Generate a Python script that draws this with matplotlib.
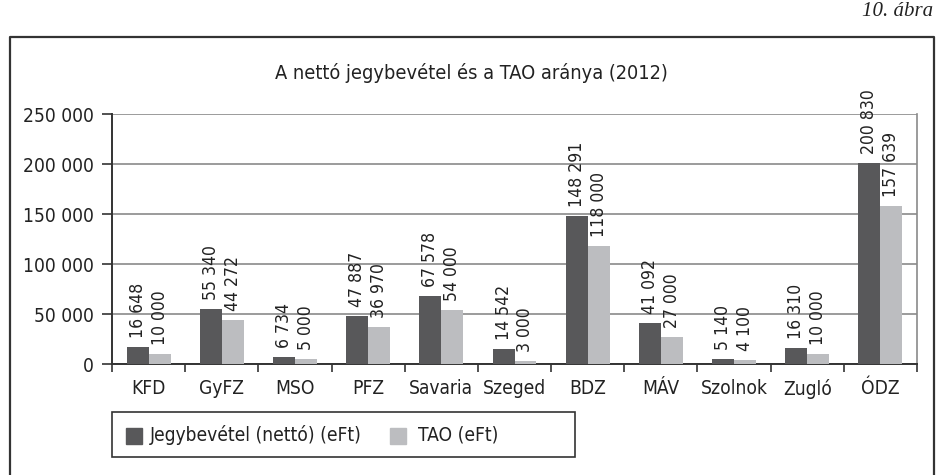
import matplotlib
matplotlib.use("Agg")
import matplotlib.pyplot as plt
from matplotlib.patches import Rectangle
from matplotlib.lines import Line2D
import matplotlib.font_manager as fm
import numpy as np

categories = ["KFD", "GyFZ", "MSO", "PFZ", "Savaria", "Szeged", "BDZ", "MÁV", "Szolnok", "Zugló", "ÓDZ"]
jegy = [16648, 55340, 6734, 47887, 67578, 14542, 148291, 41092, 5140, 16310, 200830]
tao = [10000, 44272, 5000, 36970, 54000, 3000, 118000, 27000, 4100, 10000, 157639]
yticks = [0, 50000, 100000, 150000, 200000, 250000]
series_names = ["Jegybevétel (nettó) (eFt)", "TAO (eFt)"]
title = "A nettó jegybevétel és a TAO aránya (2012)"

# look for a condensed / narrow sans face
cands = []
for f in fm.fontManager.ttflist:
    nm = f.name
    st = str(f.stretch)
    if f.style != "normal" or f.weight not in (400, "normal", "regular", "book"):
        continue
    low = (nm + " " + f.fname).lower()
    if "narrow" in low or "condensed" in low or st in ("condensed", "semi-condensed", "extra-condensed"):
        if "bold" in low or "italic" in low or "oblique" in low or "mono" in low or "serif" in nm.lower():
            continue
        cands.append(f)
COND = cands[0].fname if cands else None

def fp(size):
    if COND:
        return fm.FontProperties(fname=COND, size=size)
    return fm.FontProperties(family=["Liberation Sans", "DejaVu Sans"], size=size)

plt.rcParams["font.family"] = ["Liberation Sans", "DejaVu Sans"]

DARK = "#58585a"
LIGHT = "#bcbdc0"
TXT = "#222222"
W, H = 936, 475
fig = plt.figure(figsize=(W / 100, H / 100), dpi=100)

def fx(x): return x / W
def fy(y): return 1 - y / H

s_tick = 13.8 if COND else 13
s_val = 12.6 if COND else 12
s_title = 14.3 if COND else 12.5

ax = fig.add_axes([fx(112), fy(364), fx(917) - fx(112), fy(114) - fy(364)])
fmt = lambda v: f"{v:,}".replace(",", " ")
x = np.arange(len(categories))
bw = 0.3
ax.bar(x - bw / 2, jegy, bw, color=DARK, zorder=3)
ax.bar(x + bw / 2, tao, bw, color=LIGHT, zorder=3)
for xi, v in zip(x, jegy):
    ax.annotate(fmt(v), (xi - bw / 2, v), xytext=(0, 6.5), textcoords="offset points",
                rotation=90, ha="center", va="bottom", fontproperties=fp(s_val), color=TXT)
for xi, v in zip(x, tao):
    ax.annotate(fmt(v), (xi + bw / 2, v), xytext=(0, 6.5), textcoords="offset points",
                rotation=90, ha="center", va="bottom", fontproperties=fp(s_val), color=TXT)

ax.set_xlim(-0.5, len(categories) - 0.5)
ax.set_ylim(0, 250000)
ax.set_yticks(yticks)
ax.set_yticklabels([fmt(v) for v in yticks], color=TXT)
for t in ax.get_yticklabels():
    t.set_fontproperties(fp(s_tick))
ax.yaxis.grid(True, color="#8a8a8a", lw=1.2, zorder=0)
ax.set_xticks(np.arange(len(categories) + 1) - 0.5)
ax.set_xticklabels([])
ax.set_xticks(x, minor=True)
ax.set_xticklabels(categories, minor=True, color=TXT)
for t in ax.get_xticklabels(minor=True):
    t.set_fontproperties(fp(s_tick))
ax.tick_params(axis="x", which="minor", length=0, pad=11)
ax.tick_params(axis="x", which="major", length=6, width=1.2, color="#333333", direction="out")
ax.tick_params(axis="y", length=7, width=1.2, color="#333333", pad=6)
ax.spines["right"].set_color("#8a8a8a")
ax.spines["right"].set_linewidth(1.2)
for s in ["left", "bottom"]:
    ax.spines[s].set_color("#333333")
    ax.spines[s].set_linewidth(1.4)
ax.spines["top"].set_visible(False)

fig.text(fx(471), fy(73), title, ha="center", va="center", fontproperties=fp(s_title), color=TXT)
fig.text(fx(933), fy(12), "10. ábra", ha="right", va="center", fontsize=15,
         family=["Liberation Serif", "DejaVu Serif"], style="italic", color=TXT)

# outer frame
fig.add_artist(Line2D([fx(10), fx(10), fx(934), fx(934)], [fy(476), fy(37), fy(37), fy(476)],
                      color="#333333", lw=1.6))

# legend box
fig.add_artist(Rectangle((fx(112), fy(457)), fx(575) - fx(112), fy(412) - fy(457),
                         fill=False, edgecolor="#333333", lw=1.2))
fig.add_artist(Rectangle((fx(126), fy(444)), fx(16), fy(428) - fy(444), color=DARK))
fig.text(fx(150), fy(435), series_names[0], ha="left", va="center", fontproperties=fp(s_tick), color=TXT)
fig.add_artist(Rectangle((fx(390), fy(444)), fx(16), fy(428) - fy(444), color=LIGHT))
fig.text(fx(418), fy(435), series_names[1], ha="left", va="center", fontproperties=fp(s_tick), color=TXT)

fig.savefig("out.png", dpi=100)
